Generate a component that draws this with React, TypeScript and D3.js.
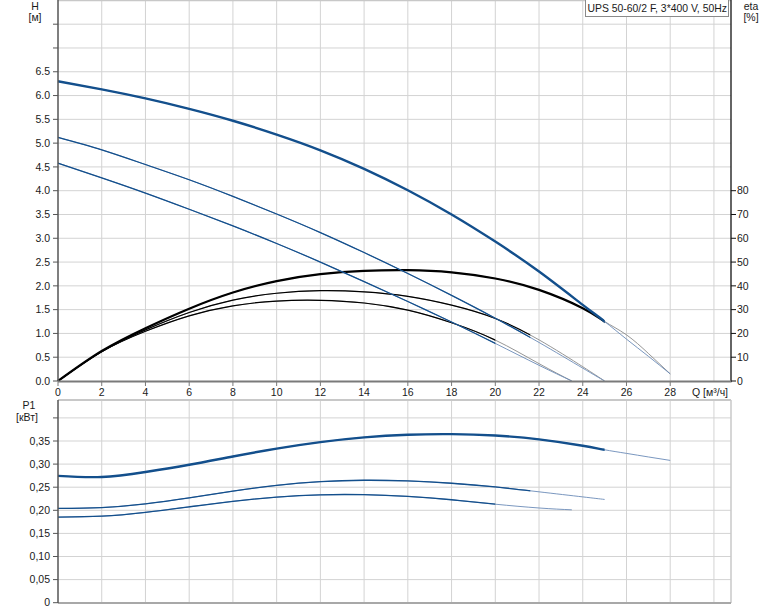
import React from 'react';
import * as d3 from 'd3';

// ---- data (Q in m³/h, H in m, eta in %, P1 in kW) ----
const Q_MAIN = [0, 2, 4, 6, 8, 10, 12, 14, 16, 18, 20, 22, 24, 25, 26, 27, 28];
const H_MAIN = [6.30, 6.13, 5.94, 5.72, 5.47, 5.18, 4.85, 4.46, 4.01, 3.50, 2.93, 2.30, 1.60, 1.25, 0.88, 0.52, 0.15];
const ETA_MAIN = [0, 12.6, 22.2, 30.4, 37.2, 42.0, 44.9, 46.3, 46.6, 45.7, 43.1, 38.3, 30.6, 25.0, 19.4, 11.6, 3.0];
const P_MAIN = [0.2745, 0.2722, 0.283, 0.2985, 0.3165, 0.3335, 0.3475, 0.3578, 0.3635, 0.3648, 0.3618, 0.3536, 0.3398, 0.331, 0.3232, 0.3155, 0.308];
const CUT_MAIN = 25;

const Q_MID = [0, 2, 4, 6, 8, 10, 12, 14, 16, 18, 20, 22, 24, 25];
const H_MID = [5.12, 4.86, 4.55, 4.23, 3.88, 3.51, 3.12, 2.70, 2.26, 1.80, 1.32, 0.81, 0.27, 0];
const ETA_MID = [0, 12.4, 21.5, 28.8, 34.0, 36.9, 38.0, 37.5, 35.6, 31.9, 26.3, 17.3, 6.0, 0];
const P_MID = [0.204, 0.206, 0.214, 0.227, 0.2415, 0.254, 0.262, 0.265, 0.2635, 0.2585, 0.2505, 0.240, 0.229, 0.2235];
const CUT_MID = 21.6;

const Q_LOW = [0, 2, 4, 6, 8, 10, 12, 14, 16, 18, 20, 22, 23.5];
const H_LOW = [4.58, 4.27, 3.95, 3.61, 3.26, 2.89, 2.50, 2.09, 1.67, 1.24, 0.79, 0.33, 0];
const ETA_LOW = [0, 12.3, 20.9, 27.4, 31.6, 33.6, 33.9, 32.8, 29.8, 24.5, 17.2, 7.3, 0];
const P_LOW = [0.1852, 0.1872, 0.1955, 0.2075, 0.2195, 0.2285, 0.2335, 0.2338, 0.2300, 0.2228, 0.2132, 0.2050, 0.2010];
const CUT_LOW = 20;

const Q_TICKS = [0, 2, 4, 6, 8, 10, 12, 14, 16, 18, 20, 22, 24, 26, 28];
const Q_GRID = [2, 4, 6, 8, 10, 12, 14, 16, 18, 20, 22, 24, 26, 28, 30];
const H_TICKS = [0, 0.5, 1, 1.5, 2, 2.5, 3, 3.5, 4, 4.5, 5, 5.5, 6, 6.5];
const H_GRID = [0.5, 1, 1.5, 2, 2.5, 3, 3.5, 4, 4.5, 5, 5.5, 6, 6.5, 7, 7.5];
const ETA_TICKS = [0, 10, 20, 30, 40, 50, 60, 70, 80];
const P_TICKS = [0, 0.05, 0.1, 0.15, 0.2, 0.25, 0.3, 0.35];
const P_GRID = [0.05, 0.1, 0.15, 0.2, 0.25, 0.3, 0.35, 0.4];
const TITLE = 'UPS 50-60/2 F, 3*400 V, 50Hz';

// ---- layout ----
const W = 774, HT = 611;
const X0 = 58, X1 = 731;
const TOP1 = 0.5, BOT1 = 381, TOP2 = 400, BOT2 = 603;
const FONT = '"Liberation Sans", Arial, sans-serif';

const x = d3.scaleLinear().domain([0, 30.78]).range([X0, X1]);
const yH = d3.scaleLinear().domain([0, 8]).range([BOT1, 0.4]);
const yEta = d3.scaleLinear().domain([0, 160]).range([BOT1, 0.4]);
const yP = d3.scaleLinear().domain([0, 0.35]).range([602.7, 441]);

const mk = (ys: (v: number) => number) =>
  d3.line<[number, number]>().x(d => x(d[0])).y(d => ys(d[1])).curve(d3.curveNatural);
const lH = mk(yH), lE = mk(yEta), lP = mk(yP);
const zip = (a: number[], b: number[]) => a.map((v, i) => [v, b[i]] as [number, number]);

const BLUE = '#134f8c';
const BLUE_L = '#6b8bb8';
const GREY_L = '#8a8a8a';
const GRID = '#d3d3d3';

const fmtH = (v: number) => v.toFixed(1);
const fmtP = (v: number) => (v === 0 ? '0' : v.toFixed(2).replace('.', ','));

type CurveProps = { d: string; clip: string; color: string; light: string; w: number };
function Curve({ d, clip, color, light, w }: CurveProps) {
  return (
    <g>
      <path d={d} fill="none" stroke={light} strokeWidth={0.9} />
      <path d={d} fill="none" stroke={color} strokeWidth={w} clipPath={`url(#${clip})`} />
    </g>
  );
}

export default function App() {
  const t = { fontFamily: FONT, fontSize: 10.5, fill: '#1a1a1a' } as const;
  const curves = [
    { q: Q_MAIN, h: H_MAIN, e: ETA_MAIN, p: P_MAIN, cut: CUT_MAIN, id: 'cMain', w: 2.4, we: 2.2, wp: 2.4 },
    { q: Q_MID, h: H_MID, e: ETA_MID, p: P_MID, cut: CUT_MID, id: 'cMid', w: 1.25, we: 1.2, wp: 1.3 },
    { q: Q_LOW, h: H_LOW, e: ETA_LOW, p: P_LOW, cut: CUT_LOW, id: 'cLow', w: 1.25, we: 1.2, wp: 1.3 },
  ];
  const rev = curves.slice().reverse();
  return (
    <div style={{ position: 'absolute', left: 0, top: 0 }}>
      <svg width={W} height={HT} style={{ display: 'block', background: '#fff' }}>
        <defs>
          {curves.map(c => (
            <clipPath key={c.id} id={c.id}>
              <rect x={0} y={0} width={x(c.cut)} height={HT} />
            </clipPath>
          ))}
        </defs>
        {/* upper grid */}
        {Q_GRID.map(q => (
          <line key={'vg1' + q} x1={x(q)} x2={x(q)} y1={TOP1} y2={BOT1} stroke={GRID} strokeWidth={1} />
        ))}
        {H_GRID.map(h => (
          <line key={'hg1' + h} x1={X0} x2={X1} y1={yH(h)} y2={yH(h)} stroke={GRID} strokeWidth={1} />
        ))}
        <line x1={X0} x2={X1} y1={TOP1} y2={TOP1} stroke="#c8c8c8" strokeWidth={1.5} />

        {/* lower grid */}
        {Q_GRID.map(q => (
          <line key={'vg2' + q} x1={x(q)} x2={x(q)} y1={TOP2} y2={BOT2} stroke={GRID} strokeWidth={1} />
        ))}
        {P_GRID.map(p => (
          <line key={'hg2' + p} x1={X0} x2={X1} y1={yP(p)} y2={yP(p)} stroke={GRID} strokeWidth={1} />
        ))}
        <line x1={X0} x2={X1} y1={TOP2} y2={TOP2} stroke="#c8c8c8" strokeWidth={2} />
        <line x1={X1} x2={X1} y1={TOP2} y2={BOT2} stroke="#c8c8c8" strokeWidth={1.5} />
        <line x1={X0} x2={X1} y1={BOT2} y2={BOT2} stroke="#a8a8a8" strokeWidth={2} />

        {/* eta curves, then H curves */}
        {rev.map(c => (
          <Curve key={'e' + c.id} d={lE(zip(c.q, c.e)) || ''} clip={c.id} color="#000" light={GREY_L} w={c.we} />
        ))}
        {rev.map(c => (
          <Curve key={'h' + c.id} d={lH(zip(c.q, c.h)) || ''} clip={c.id} color={BLUE} light={BLUE_L} w={c.w} />
        ))}
        {/* P1 curves */}
        {rev.map(c => (
          <Curve key={'p' + c.id} d={lP(zip(c.q, c.p)) || ''} clip={c.id} color={BLUE} light={BLUE_L} w={c.wp} />
        ))}

        {/* upper axes */}
        <line x1={X0} x2={X0} y1={0} y2={BOT1} stroke="#555" strokeWidth={1.5} />
        <line x1={X1} x2={X1} y1={0} y2={BOT1 + 1} stroke="#111" strokeWidth={1.3} />
        <line x1={X0} x2={X1 + 0.6} y1={BOT1 + 0.5} y2={BOT1 + 0.5} stroke="#7a7a7a" strokeWidth={2} />
        {H_GRID.concat([0]).map(h => (
          <line key={'ht' + h} x1={X0 - 5} x2={X0} y1={yH(h)} y2={yH(h)} stroke="#555" strokeWidth={1} />
        ))}
        {H_TICKS.map(h => (
          <text key={'hl' + h} {...t} x={50} y={yH(h)} dy="0.35em" textAnchor="end">{fmtH(h)}</text>
        ))}
        {ETA_TICKS.map(e => (
          <g key={'et' + e}>
            <line x1={X1} x2={X1 + 5} y1={yEta(e)} y2={yEta(e)} stroke="#111" strokeWidth={1} />
            <text {...t} x={X1 + 6} y={yEta(e)} dy="0.35em" textAnchor="start">{e}</text>
          </g>
        ))}
        {Q_TICKS.map(q => (
          <g key={'qt' + q}>
            <line x1={x(q)} x2={x(q)} y1={BOT1} y2={BOT1 + 5} stroke="#7a7a7a" strokeWidth={1} />
            <text {...t} x={x(q)} y={396} textAnchor="middle">{q}</text>
          </g>
        ))}
        <text {...t} x={692} y={396} textAnchor="start">Q [м³/ч]</text>
        <text {...t} x={35} y={9.5} textAnchor="middle">H</text>
        <text {...t} x={35} y={21} textAnchor="middle">[м]</text>
        <text {...t} x={751} y={9.5} textAnchor="middle">eta</text>
        <text {...t} x={751} y={21} textAnchor="middle">[%]</text>

        {/* lower axes */}
        <line x1={X0} x2={X0} y1={TOP2} y2={BOT2} stroke="#555" strokeWidth={1.5} />
        {P_GRID.concat([0]).map(p => (
          <line key={'pt' + p} x1={X0 - 5} x2={X0} y1={yP(p)} y2={yP(p)} stroke="#555" strokeWidth={1} />
        ))}
        {P_TICKS.map(p => (
          <text key={'pl' + p} {...t} x={50} y={yP(p)} dy="0.35em" textAnchor="end">{fmtP(p)}</text>
        ))}
        <text {...t} x={29} y={409} textAnchor="middle">P1</text>
        <text {...t} x={27} y={421} textAnchor="middle">[кВт]</text>

        {/* title box */}
        <rect x={585.5} y={-1} width={143} height={17.5} fill="#fff" stroke="#8a8a8a" strokeWidth={1} />
        <text {...t} fontSize={10.4} x={587.5} y={12} textAnchor="start">{TITLE}</text>
      </svg>
    </div>
  );
}
